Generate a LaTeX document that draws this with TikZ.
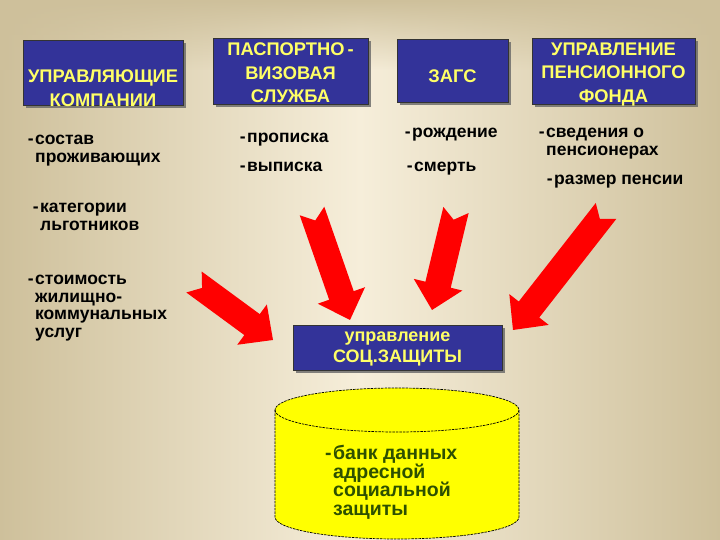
\documentclass[tikz,border=0pt]{standalone}
\usepackage{fontspec}
\setmainfont{Liberation Sans}
\usetikzlibrary{calc,shadows,fadings}

\definecolor{bgedge}{RGB}{206,192,155}
\definecolor{bgmid}{RGB}{246,238,218}
\definecolor{boxblue}{RGB}{51,51,153}
\definecolor{boxtext}{RGB}{255,255,102}
\definecolor{arrowred}{RGB}{255,0,0}
\definecolor{bankgreen}{RGB}{45,80,0}
\definecolor{bankyellow}{RGB}{255,255,0}

\tikzfading[name=fadedown, top color=transparent!0, bottom color=transparent!100]

\tikzset{
  orgbox/.style={fill=boxblue, draw=black!80, line width=0.6pt, inner sep=0pt,
    drop shadow={shadow xshift=3pt, shadow yshift=-3pt, fill=black!60, opacity=0.8}},
  orglabel/.style={text=boxtext, align=center, inner sep=0pt,
    font=\fontsize{18.3}{23.5}\selectfont\bfseries},
  info/.style={anchor=north west, align=left, inner sep=0pt,
    font=\fontsize{17.5}{17.5}\selectfont\bfseries},
  banktext/.style={anchor=north west, align=left, inner sep=0pt, text=bankgreen,
    font=\fontsize{19.5}{18.7}\selectfont\bfseries},
}

% dash hanging in front of the first word
\newcommand{\dsh}{\llap{-\kern1.5pt}}

% notched block arrow from tail #1 to tip #2
\newcommand{\blockarrow}[2]{%
  \coordinate (#1-h) at ($(#2)!26pt!(#1)$);
  \fill[arrowred] ($(#1)!13pt!90:(#2)$) -- ($(#1)!10pt!(#2)$) -- ($(#1)!13pt!-90:(#2)$)
    -- ($(#1-h)!13pt!90:(#1)$) -- ($(#1-h)!25pt!90:(#1)$) -- (#2)
    -- ($(#1-h)!25pt!-90:(#1)$) -- ($(#1-h)!13pt!-90:(#1)$) -- cycle;
}

\begin{document}
\begin{tikzpicture}[x=1pt,y=1pt]
% background
\useasboundingbox (0,0) rectangle (720,540);
\shade[left color=bgedge, right color=bgedge, middle color=bgmid] (0,0) rectangle (720,540);
\fill[bgedge, path fading=fadedown] (0,470) rectangle (720,540);

% sources
\node[orgbox, minimum width=160, minimum height=65] (upr) at (103,467.5) {};
\node[orglabel] (upr-t) at (103,452) {УПРАВЛЯЮЩИЕ\\КОМПАНИИ};
\node[orgbox, minimum width=155, minimum height=66] (pvs) at (290.5,469) {};
\node[orglabel] (pvs-t) at (290.5,467) {ПАСПОРТНО\kern3pt-\\ВИЗОВАЯ\\СЛУЖБА};
\node[orgbox, minimum width=111, minimum height=63] (zags) at (452.5,469.5) {};
\node[orglabel] (zags-t) at (452.5,464) {ЗАГС};
\node[orgbox, minimum width=163, minimum height=66] (pfr) at (613.5,469) {};
\node[orglabel] (pfr-t) at (613.5,465.5) {УПРАВЛЕНИЕ\\ПЕНСИОННОГО\\ФОНДА};

% data items
\node[info] (sostav) at (35,405) {\dsh состав\\проживающих};
\node[info] (lgot) at (40,337) {\dsh категории\\льготников};
\node[info] (zhku) at (35,265) {\dsh стоимость\\жилищно-\\коммунальных\\услуг};
\node[info] (propis) at (247,407) {\dsh прописка};
\node[info] (vypis) at (247,378) {\dsh выписка};
\node[info] (rozhd) at (412,412) {\dsh рождение};
\node[info] (smert) at (414,378) {\dsh смерть};
\node[info] (pens) at (546,412) {\dsh сведения о\\пенсионерах};
\node[info] (razm) at (554,365) {\dsh размер пенсии};

% target
\node[orgbox, minimum width=209, minimum height=45] (uszn) at (397.5,192.5) {};
\node[orglabel, font=\fontsize{18}{21}\selectfont\bfseries] (uszn-t) at (397.5,191.5) {управление\\СОЦ.ЗАЩИТЫ};

% arrows
\coordinate (a1) at (194,258); \coordinate (b1) at (273,200);
\coordinate (a2) at (312,329); \coordinate (b2) at (350,220);
\coordinate (a3) at (456,330); \coordinate (b3) at (432,230);
\coordinate (a4) at (606,329); \coordinate (b4) at (513,210);
\blockarrow{a1}{b1}
\blockarrow{a2}{b2}
\blockarrow{a3}{b3}
\blockarrow{a4}{b4}

% data bank
\filldraw[fill=bankyellow, draw=black, line width=0.7pt, dash pattern=on 2.5pt off 1pt]
  (275,130) -- (275,23) arc[start angle=180, end angle=360, x radius=122, y radius=22]
  -- (519,130) arc[start angle=0, end angle=180, x radius=122, y radius=22] -- cycle;
\draw[line width=0.7pt, dash pattern=on 2.5pt off 1pt] (275,130) arc[start angle=180, end angle=360, x radius=122, y radius=22];
\node[banktext] (bank) at (333,95) {\dsh банк данных\\адресной\\социальной\\защиты};
\end{tikzpicture}
\end{document}
